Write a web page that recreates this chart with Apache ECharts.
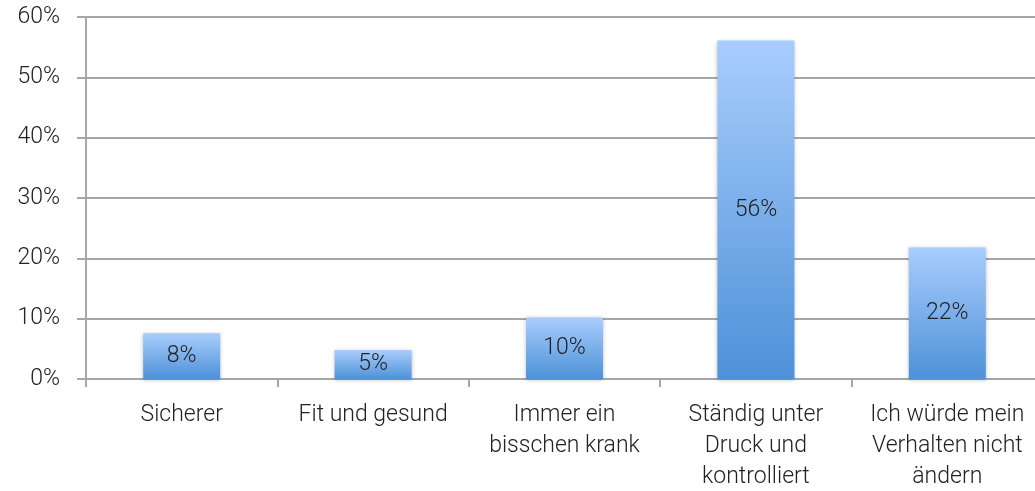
<!DOCTYPE html>
<html>
<head>
<meta charset="utf-8">
<script src="https://cdn.jsdelivr.net/npm/echarts@6/dist/echarts.min.js"></script>
<style>
  html, body { margin: 0; padding: 0; background: #fff; }
  #chart { width: 1035px; height: 491px; }
</style>
</head>
<body>
<div id="chart"></div>
<script>
const categories = [
  'Sicherer',
  'Fit und gesund',
  'Immer ein\nbisschen krank',
  'Ständig unter\nDruck und\nkontrolliert',
  'Ich würde mein\nVerhalten nicht\nändern'
];
const values = [7.6, 4.8, 10.2, 56.1, 21.8];
const yTicks = [0, 10, 20, 30, 40, 50, 60];

const fontFamily = 'Roboto, "Liberation Sans", sans-serif';

const chart = echarts.init(document.getElementById('chart'));
chart.setOption({
  animation: false,
  grid: { left: 86, right: -8, top: 17, bottom: 112, outerBoundsMode: 'none' },
  xAxis: {
    type: 'category',
    data: categories,
    axisLine: { lineStyle: { color: '#a6a6a6', width: 2 } },
    axisTick: { show: true, length: 8, lineStyle: { color: '#a6a6a6', width: 2 } },
    axisLabel: {
      color: '#222',
      fontSize: 23,
      fontWeight: 300,
      fontFamily: fontFamily,
      lineHeight: 31,
      margin: 21,
      interval: 0
    }
  },
  yAxis: {
    type: 'value',
    min: yTicks[0],
    max: yTicks[yTicks.length - 1],
    interval: 10,
    axisLine: { show: true, lineStyle: { color: '#a6a6a6', width: 2 } },
    axisTick: { show: true, length: 9, lineStyle: { color: '#a6a6a6', width: 2 } },
    splitLine: { lineStyle: { color: '#a6a6a6', width: 2 } },
    axisLabel: {
      color: '#222',
      fontSize: 23,
      fontWeight: 300,
      fontFamily: fontFamily,
      margin: 26,
      formatter: v => v + '%'
    }
  },
  series: [{
    type: 'bar',
    data: values,
    barWidth: 77,
    itemStyle: {
      color: new echarts.graphic.LinearGradient(0, 0, 0, 1, [
        { offset: 0, color: '#a9cdfd' },
        { offset: 1, color: '#4d91d8' }
      ]),
      shadowColor: 'rgba(0,0,0,0.25)',
      shadowBlur: 4,
      shadowOffsetY: 1
    },
    label: {
      show: true,
      position: 'inside',
      color: '#222',
      fontSize: 23,
      fontWeight: 300,
      fontFamily: fontFamily,
      formatter: p => Math.round(p.value) + '%'
    }
  }]
});
</script>
</body>
</html>
